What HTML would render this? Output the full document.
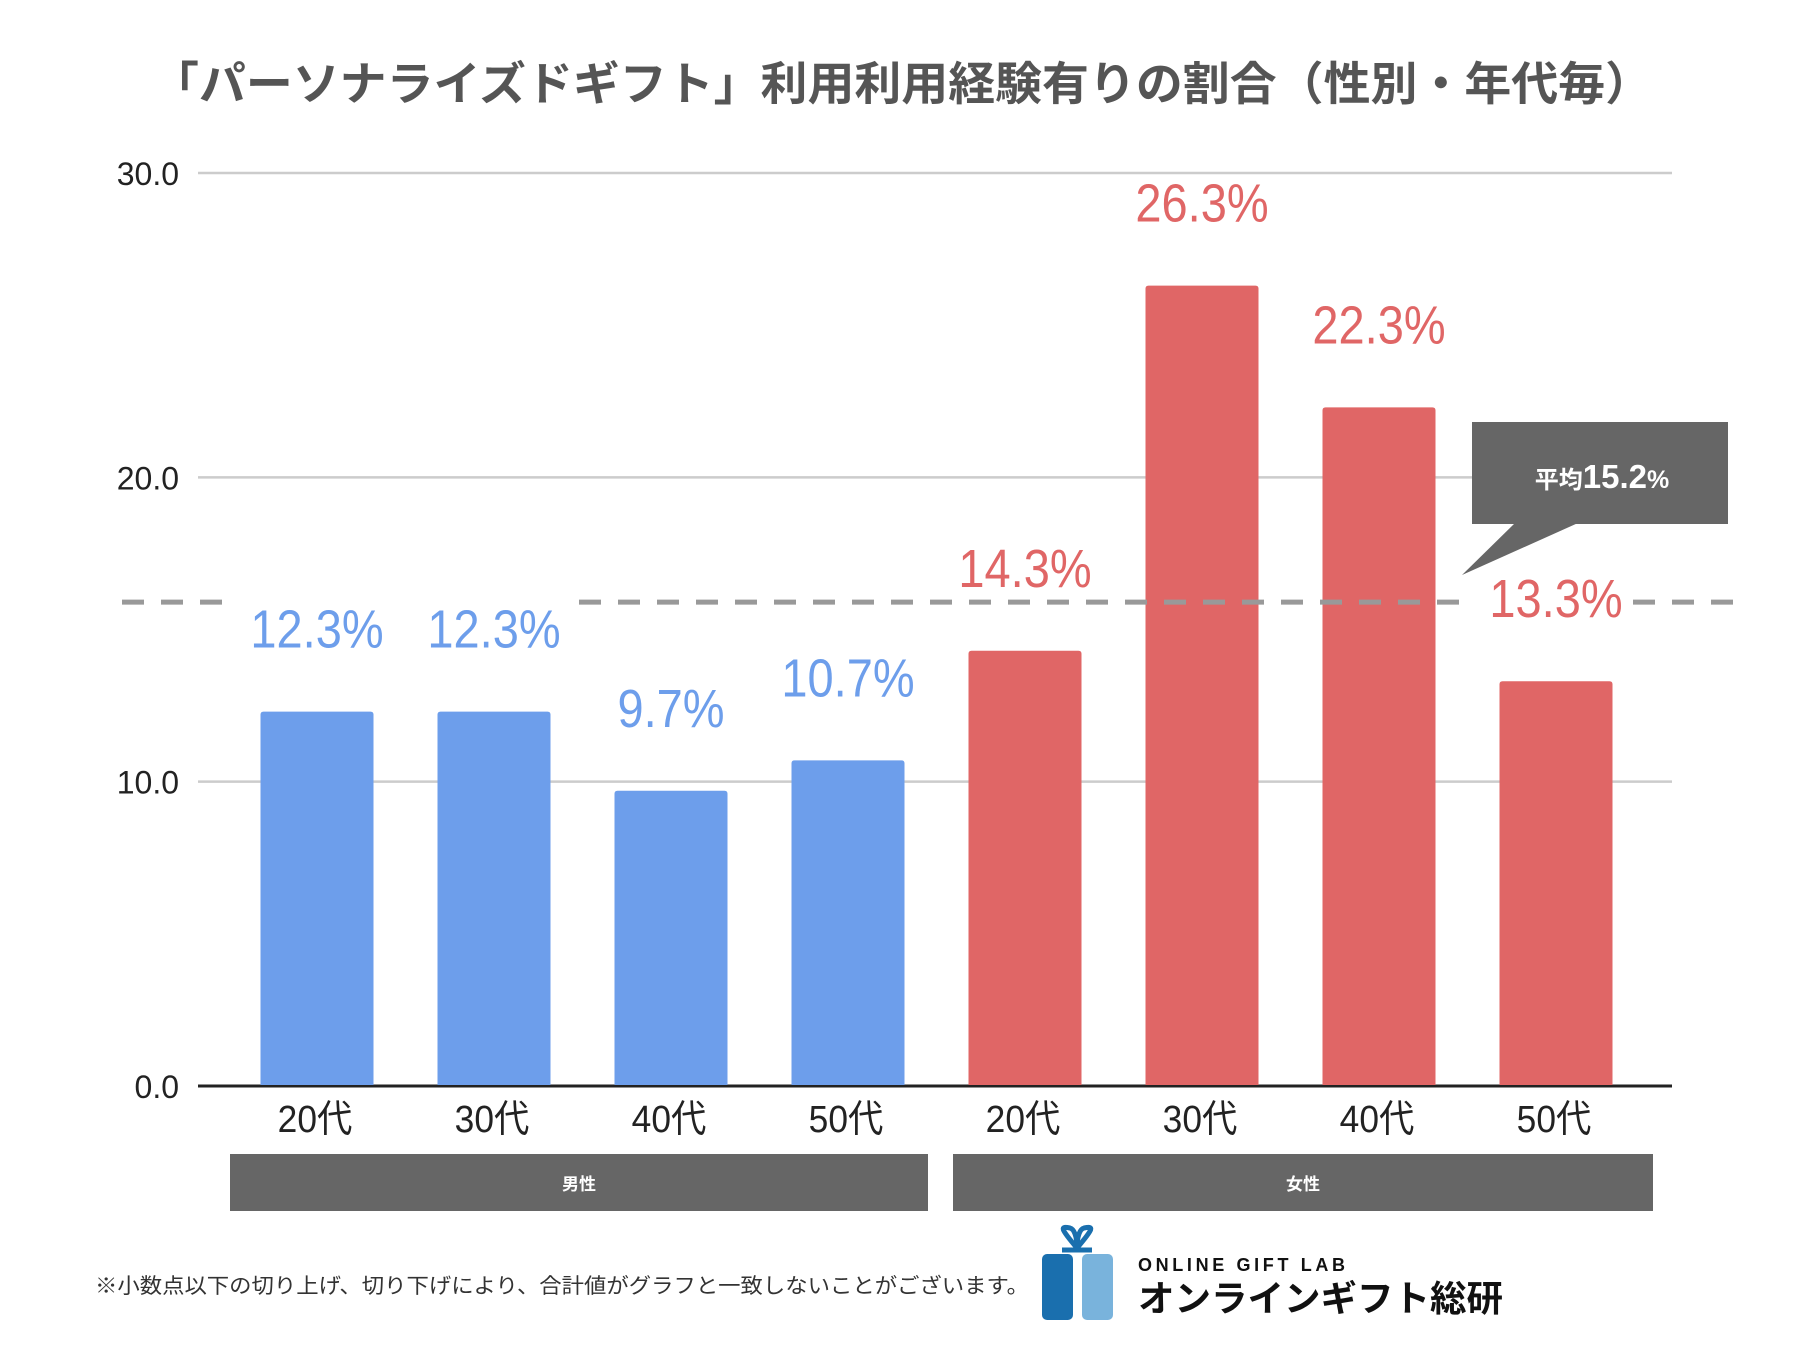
<!DOCTYPE html>
<html><head><meta charset="utf-8">
<style>
html,body{margin:0;padding:0;background:#fff;}
svg{display:block;font-family:"Liberation Sans","Noto Sans CJK JP",sans-serif;}
</style></head>
<body>
<svg id="chart" width="1800" height="1350" viewBox="0 0 1800 1350" xmlns="http://www.w3.org/2000/svg">
<rect x="0" y="0" width="1800" height="1350" fill="#fff"/>
<text x="902" y="100" text-anchor="middle" font-size="46" font-weight="bold" fill="#555" textLength="1500" lengthAdjust="spacingAndGlyphs">「パーソナライズドギフト」利用利用経験有りの割合（性別・年代毎）</text>
<g id="grid"></g>
<g id="bars"></g>
<g id="avg"></g>
<g id="labels"></g>
<g id="cats"></g>
<rect x="230" y="1154" width="698" height="57" fill="#666"/>
<text x="579" y="1190" text-anchor="middle" font-size="17" font-weight="bold" fill="#fff">男性</text>
<rect x="953" y="1154" width="700" height="57" fill="#666"/>
<text x="1303" y="1190" text-anchor="middle" font-size="17" font-weight="bold" fill="#fff">女性</text>
<g>
<rect x="1472" y="422" width="256" height="102" fill="#666"/>
<polygon points="1515,523 1578,523 1462,575" fill="#666"/>
<text x="1602" y="488" text-anchor="middle" fill="#fff" font-weight="bold"><tspan font-size="24">平均</tspan><tspan font-size="33">15.2</tspan><tspan font-size="25">%</tspan></text>
</g>
<text x="95" y="1293" font-size="21" fill="#333" textLength="934" lengthAdjust="spacingAndGlyphs">※小数点以下の切り上げ、切り下げにより、合計値がグラフと一致しないことがございます。</text>
<g>
<rect x="1042" y="1254" width="31" height="66" rx="5" fill="#1a6fae"/>
<rect x="1082" y="1254" width="31" height="66" rx="5" fill="#79b3dc"/>
<path d="M1077 1248 C1060 1228,1060 1226,1070 1228 C1074 1229,1077 1236,1077 1248 C1077 1236,1080 1229,1084 1228 C1094 1226,1094 1228,1077 1248 M1062 1250 L1092 1250" stroke="#1a6fae" stroke-width="5" fill="none"/>
<text x="1138" y="1271" font-size="18" font-weight="bold" fill="#111" textLength="207" lengthAdjust="spacing">ONLINE GIFT LAB</text>
<text x="1138" y="1311" font-size="36" font-weight="bold" fill="#111" textLength="365" lengthAdjust="spacingAndGlyphs">オンラインギフト総研</text>
</g>
</svg>
<script>
const categories = ["20代","30代","40代","50代","20代","30代","40代","50代"];
const values = [12.3, 12.3, 9.7, 10.7, 14.3, 26.3, 22.3, 13.3];
const groups = ["male","male","male","male","female","female","female","female"];
const valueLabels = ["12.3%","12.3%","9.7%","10.7%","14.3%","26.3%","22.3%","13.3%"];
const yTicks = [0, 10, 20, 30];
const yTickLabels = ["0.0","10.0","20.0","30.0"];
const averageLineLevel = 15.9;

const NS = "http://www.w3.org/2000/svg";
const Y0 = 1086, YTOP = 173, YMAX = 30;
const PLOT_L = 198, PLOT_R = 1672;
const BAR_W = 113, FIRST_C = 317, STEP = 177;
const yScale = v => Y0 - (v / YMAX) * (Y0 - YTOP);
const xCenter = i => FIRST_C + STEP * i;
const colors = {male:"#6d9eeb", female:"#e06666"};
function mk(tag, attrs, parent){
  const e = document.createElementNS(NS, tag);
  for (const k in attrs) e.setAttribute(k, attrs[k]);
  parent.appendChild(e);
  return e;
}
const grid = document.getElementById("grid");
yTicks.forEach((t, i) => {
  const y = yScale(t);
  const ln = mk("line", {x1:PLOT_L, x2:PLOT_R, y1:y, y2:y, stroke: t===0?"#222":"#ccc", "stroke-width": t===0?3:2.5}, grid);
  
  
  const tx = mk("text", {x:179, y:y+12, "text-anchor":"end", "font-size":32, fill:"#222"}, grid);
  tx.textContent = yTickLabels[i];
  
  
});
const bars = document.getElementById("bars");
const labels = document.getElementById("labels");
const cats = document.getElementById("cats");
values.forEach((v, i) => {
  const cx = xCenter(i), top = yScale(v);
  const b = mk("path", {d:`M${cx-BAR_W/2} ${Y0-1} L${cx-BAR_W/2} ${top+3} Q${cx-BAR_W/2} ${top} ${cx-BAR_W/2+3} ${top} L${cx+BAR_W/2-3} ${top} Q${cx+BAR_W/2} ${top} ${cx+BAR_W/2} ${top+3} L${cx+BAR_W/2} ${Y0-1} Z`, fill:colors[groups[i]]}, bars);
  
  
  const t = mk("text", {transform:`translate(${cx},${top-64}) scale(0.87,1)`, "text-anchor":"middle", "font-size":54, fill:colors[groups[i]]}, labels);
  t.textContent = valueLabels[i];
  
  
  const c = mk("text", {transform:`translate(${cx-2},${1132}) scale(0.93,1)`, "text-anchor":"middle", "font-size":38, fill:"#222"}, cats);
  c.textContent = categories[i];
  
  
});
const avg = document.getElementById("avg");
const ay = yScale(averageLineLevel);
[[122,226],[579,1467],[1633,1740]].forEach(seg => {
  const l = mk("line", {x1:seg[0], x2:seg[1], y1:ay, y2:ay, stroke:"#999", "stroke-width":5, "stroke-dasharray":"22 17"}, avg);
  
  
});
</script>
</body></html>
